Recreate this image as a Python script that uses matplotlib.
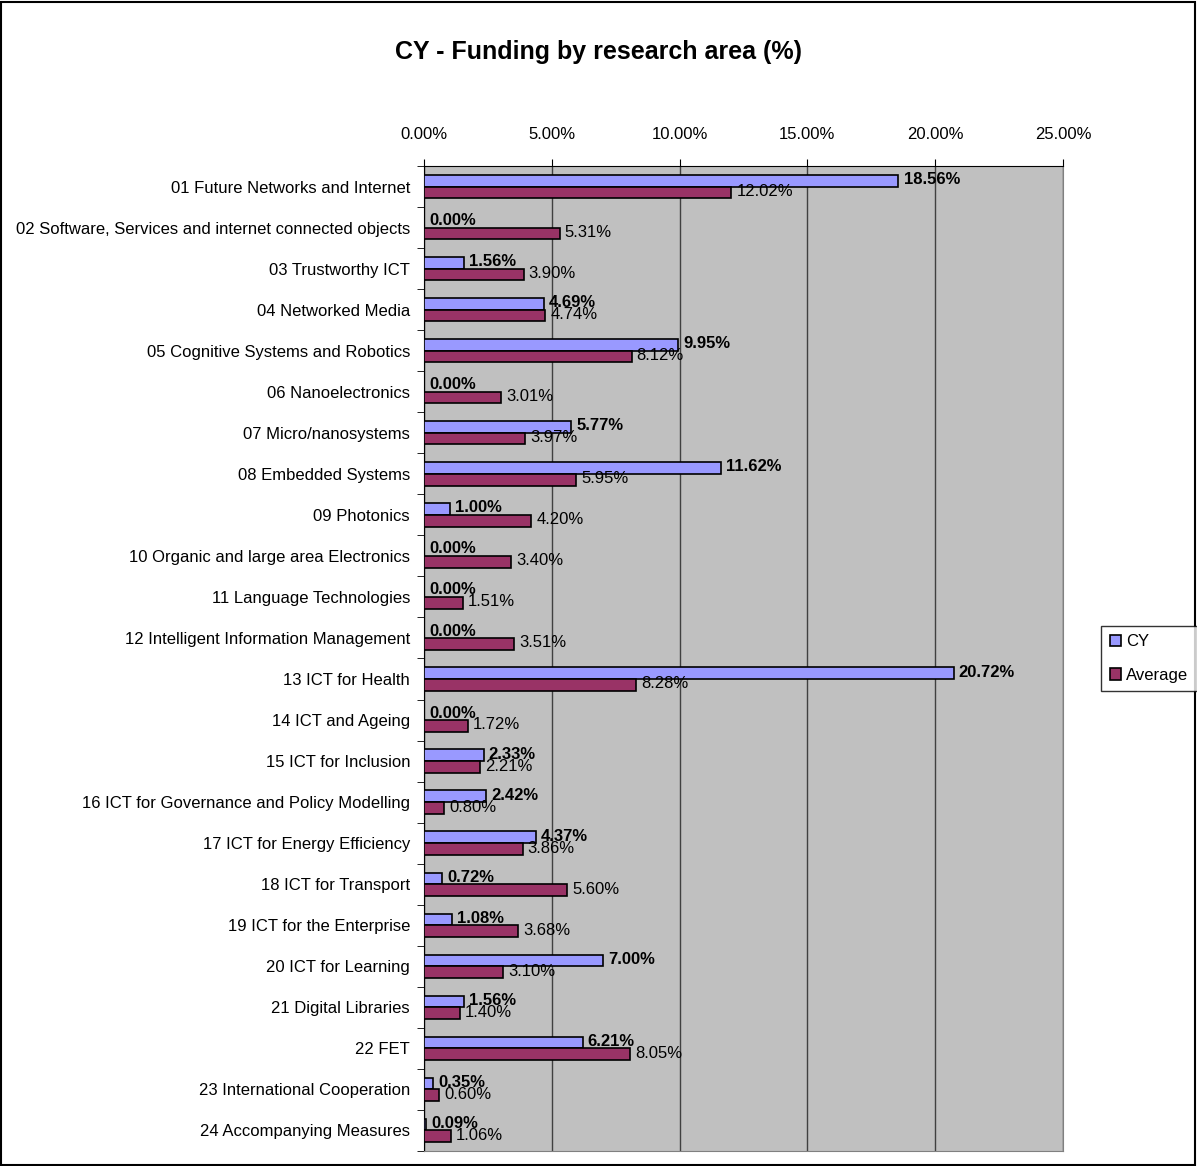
import numpy as np
import matplotlib.pyplot as plt
from matplotlib.patches import Rectangle

categories = [
    '01 Future Networks and Internet',
    '02 Software, Services and internet connected objects',
    '03 Trustworthy ICT',
    '04 Networked Media',
    '05 Cognitive Systems and Robotics',
    '06 Nanoelectronics',
    '07 Micro/nanosystems',
    '08 Embedded Systems',
    '09 Photonics',
    '10 Organic and large area Electronics',
    '11 Language Technologies',
    '12 Intelligent Information Management',
    '13 ICT for Health',
    '14 ICT and Ageing',
    '15 ICT for Inclusion',
    '16 ICT for Governance and Policy Modelling',
    '17 ICT for Energy Efficiency',
    '18 ICT for Transport',
    '19 ICT for the Enterprise',
    '20 ICT for Learning',
    '21 Digital Libraries',
    '22 FET',
    '23 International Cooperation',
    '24 Accompanying Measures',
]
cy = [18.56, 0.00, 1.56, 4.69, 9.95, 0.00, 5.77, 11.62, 1.00, 0.00, 0.00, 0.00,
      20.72, 0.00, 2.33, 2.42, 4.37, 0.72, 1.08, 7.00, 1.56, 6.21, 0.35, 0.09]
average = [12.02, 5.31, 3.90, 4.74, 8.12, 3.01, 3.97, 5.95, 4.20, 3.40, 1.51, 3.51,
           8.28, 1.72, 2.21, 0.80, 3.86, 5.60, 3.68, 3.10, 1.40, 8.05, 0.60, 1.06]
ticks = [0, 5, 10, 15, 20, 25]

plt.rcParams['font.family'] = ['Liberation Sans', 'DejaVu Sans']

fig = plt.figure(figsize=(11.97, 11.66), dpi=100)
ax = fig.add_axes([0.3542, 0.0129, 0.5339, 0.8447])

y = np.arange(len(categories))
h = 0.285
ax.barh(y - h / 2, cy, height=h, color='#9999FF', edgecolor='black', linewidth=1.2, label='CY', zorder=3)
ax.barh(y + h / 2, average, height=h, color='#993366', edgecolor='black', linewidth=1.2, label='Average', zorder=3)

# value labels, CY bold above, Average regular below
for i in range(len(categories)):
    ax.text(cy[i] + 0.2, y[i] - 0.17, '%.2f%%' % cy[i], fontsize=12, fontweight='bold',
            va='center', ha='left', zorder=4)
    ax.text(average[i] + 0.2, y[i] + 0.12, '%.2f%%' % average[i], fontsize=12,
            va='center', ha='left', zorder=4)

ax.set_xlim(0, 25)
ax.set_ylim(len(categories) - 0.5, -0.5)
ax.set_facecolor('#C0C0C0')
ax.set_xticks(ticks)
ax.set_xticklabels(['%.2f%%' % v for v in ticks], fontsize=12)
ax.xaxis.tick_top()
ax.tick_params(axis='x', pad=12, length=5, direction='out')
ax.grid(axis='x', color='#404040', linewidth=1, zorder=0)

ax.set_yticks(y)
ax.set_yticklabels(categories, fontsize=12)
ax.set_yticks(np.arange(-0.5, len(categories), 1), minor=True)
ax.tick_params(axis='y', which='major', length=0, pad=10)
ax.tick_params(axis='y', which='minor', length=5, direction='out')

for s in ['right', 'bottom']:
    ax.spines[s].set_color('#808080')
ax.spines['left'].set_color('black')
ax.spines['top'].set_color('black')

fig.text(0.5, 0.9554, 'CY - Funding by research area (%)', ha='center', va='center',
         fontsize=18, fontweight='bold')

leg = fig.legend(loc='center', bbox_to_anchor=(0.9599, 0.4353), fontsize=12,
                 frameon=True, fancybox=False, edgecolor='black', handlelength=0.7,
                 handleheight=0.7, handletextpad=0.3, borderpad=0.5, labelspacing=1.1,
                 borderaxespad=0)
leg.get_frame().set_linewidth(1)

fig.patches.append(Rectangle((0.001, 0.001), 0.997, 0.997, transform=fig.transFigure,
                             fill=False, edgecolor='black', linewidth=1.5))

fig.savefig('out.png', dpi=100)
